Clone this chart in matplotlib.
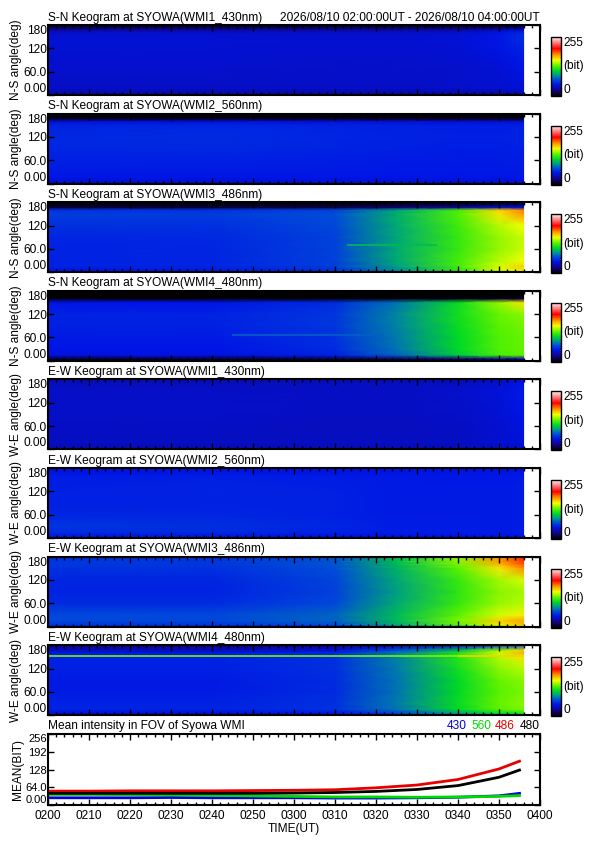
import matplotlib
matplotlib.use('Agg')
import matplotlib.pyplot as plt
import numpy as np
from matplotlib.colors import LinearSegmentedColormap, Normalize
from matplotlib.ticker import MultipleLocator

plt.rcParams['font.family'] = ['Liberation Sans', 'DejaVu Sans']
FS = 8.6

# time nodes (minutes after 02:00 UT) and angle nodes (deg) of the keogram grids
t_nodes = [0, 40, 70, 85, 100, 110, 116]
ang_nodes = [0, 5, 15, 30, 60, 90, 120, 150, 160, 167, 180]

# keogram intensities (bit), one row per angle node, one column per time node
sn_430 = [
    [18, 18, 18, 18, 18, 18, 18],
    [34, 34, 34, 34, 34, 34, 36],
    [41, 41, 41, 41, 42, 43, 45],
    [42, 42, 42, 42, 43, 45, 47],
    [43, 43, 42, 42, 43, 45, 49],
    [44, 44, 43, 43, 44, 47, 51],
    [45, 45, 44, 44, 45, 49, 55],
    [45, 45, 44, 44, 46, 51, 59],
    [43, 43, 42, 42, 44, 49, 57],
    [32, 32, 32, 32, 34, 38, 44],
    [4, 4, 4, 4, 4, 4, 4],
]
sn_560 = [
    [35, 35, 35, 35, 35, 35, 35],
    [45, 45, 45, 45, 45, 45, 45],
    [50, 50, 50, 50, 50, 50, 50],
    [52, 52, 52, 51, 51, 51, 52],
    [54, 54, 53, 52, 52, 52, 53],
    [56, 57, 55, 54, 53, 53, 54],
    [57, 58, 56, 55, 54, 54, 55],
    [55, 56, 55, 54, 53, 53, 54],
    [45, 45, 45, 44, 44, 44, 44],
    [6, 6, 6, 6, 6, 6, 6],
    [0, 0, 0, 0, 0, 0, 0],
]
sn_486 = [
    [30, 30, 35, 60, 90, 110, 120],
    [50, 52, 60, 85, 120, 150, 160],
    [55, 56, 65, 92, 125, 150, 165],
    [55, 56, 66, 95, 125, 145, 155],
    [55, 56, 66, 95, 122, 140, 148],
    [56, 57, 66, 94, 122, 140, 148],
    [60, 60, 68, 95, 124, 145, 155],
    [65, 64, 70, 97, 128, 160, 178],
    [60, 60, 66, 92, 125, 165, 182],
    [10, 10, 12, 20, 30, 40, 45],
    [0, 0, 0, 0, 0, 0, 0],
]
sn_480 = [
    [0, 0, 0, 0, 0, 0, 0],
    [10, 10, 12, 15, 20, 25, 28],
    [48, 48, 55, 75, 105, 125, 130],
    [50, 50, 58, 80, 110, 128, 132],
    [52, 52, 60, 82, 110, 128, 132],
    [54, 54, 62, 84, 112, 130, 134],
    [55, 55, 62, 85, 114, 132, 138],
    [50, 50, 58, 80, 112, 140, 160],
    [3, 3, 3, 3, 5, 8, 10],
    [0, 0, 0, 0, 0, 0, 0],
    [0, 0, 0, 0, 0, 0, 0],
]
ew_430 = [
    [34, 34, 34, 34, 35, 37, 39],
    [38, 38, 38, 38, 39, 41, 44],
    [40, 40, 40, 40, 41, 43, 47],
    [41, 41, 40, 40, 41, 44, 48],
    [41, 41, 40, 40, 41, 44, 49],
    [42, 42, 41, 41, 42, 45, 50],
    [42, 42, 41, 41, 42, 46, 51],
    [42, 42, 41, 41, 43, 47, 52],
    [41, 41, 41, 41, 42, 46, 51],
    [40, 40, 40, 40, 41, 45, 50],
    [37, 37, 37, 37, 38, 42, 46],
]
ew_560 = [
    [40, 40, 40, 40, 40, 40, 40],
    [52, 52, 50, 50, 50, 50, 50],
    [58, 57, 54, 52, 52, 52, 52],
    [62, 60, 56, 53, 53, 52, 53],
    [56, 56, 54, 52, 52, 52, 53],
    [54, 55, 54, 52, 52, 52, 53],
    [54, 55, 54, 52, 52, 52, 53],
    [53, 54, 53, 52, 51, 51, 52],
    [52, 53, 52, 51, 51, 51, 51],
    [50, 51, 50, 50, 50, 50, 50],
    [46, 46, 46, 46, 46, 46, 46],
]
ew_486 = [
    [45, 45, 50, 70, 100, 130, 145],
    [62, 62, 70, 95, 130, 160, 170],
    [68, 68, 76, 100, 135, 165, 175],
    [68, 68, 76, 100, 130, 150, 158],
    [58, 58, 68, 95, 122, 140, 145],
    [55, 55, 66, 92, 120, 138, 142],
    [56, 56, 67, 94, 122, 142, 150],
    [60, 60, 70, 98, 130, 160, 180],
    [62, 62, 72, 100, 135, 170, 190],
    [62, 62, 72, 102, 138, 175, 195],
    [60, 60, 70, 100, 138, 178, 198],
]
ew_480 = [
    [20, 20, 22, 25, 30, 35, 38],
    [45, 45, 50, 65, 90, 110, 115],
    [55, 55, 60, 80, 110, 130, 135],
    [55, 55, 60, 82, 112, 132, 138],
    [52, 52, 58, 80, 110, 130, 135],
    [52, 52, 58, 80, 110, 132, 138],
    [54, 54, 60, 82, 114, 138, 145],
    [54, 54, 60, 84, 118, 145, 160],
    [52, 52, 58, 82, 118, 150, 172],
    [40, 40, 45, 70, 100, 140, 165],
    [25, 25, 28, 32, 45, 60, 70],
]

# thin bright streaks: (angle, t start, t end, bit)
streaks_sn_486 = [(69, 73, 95, 100)]
streaks_sn_480 = [(67, 45, 82, 75)]
streaks_ew_480 = [(151, 0, 100, 135), (151, 100, 116, 165)]

panels = [
    ('S-N Keogram at SYOWA(WMI1_430nm)', 'N-S angle(deg)', sn_430, []),
    ('S-N Keogram at SYOWA(WMI2_560nm)', 'N-S angle(deg)', sn_560, []),
    ('S-N Keogram at SYOWA(WMI3_486nm)', 'N-S angle(deg)', sn_486, streaks_sn_486),
    ('S-N Keogram at SYOWA(WMI4_480nm)', 'N-S angle(deg)', sn_480, streaks_sn_480),
    ('E-W Keogram at SYOWA(WMI1_430nm)', 'W-E angle(deg)', ew_430, []),
    ('E-W Keogram at SYOWA(WMI2_560nm)', 'W-E angle(deg)', ew_560, []),
    ('E-W Keogram at SYOWA(WMI3_486nm)', 'W-E angle(deg)', ew_486, []),
    ('E-W Keogram at SYOWA(WMI4_480nm)', 'W-E angle(deg)', ew_480, streaks_ew_480),
]

# mean intensity in FOV
mean_t = [0, 10, 20, 30, 40, 50, 60, 70, 80, 90, 100, 110, 115]
mean_430 = [26, 26, 26, 27, 26, 26, 26, 25, 25, 26, 28, 33, 42]
mean_560 = [38, 38, 37, 36, 35, 33, 31, 29, 29, 28, 29, 31, 34]
mean_486 = [50, 50, 51, 51, 51, 52, 53, 55, 62, 72, 92, 130, 158]
mean_480 = [42, 42, 42, 42, 42, 42, 43, 45, 49, 56, 70, 100, 126]
time_ticks = [0, 10, 20, 30, 40, 50, 60, 70, 80, 90, 100, 110, 120]
time_labels = ['0200', '0210', '0220', '0230', '0240', '0250', '0300',
               '0310', '0320', '0330', '0340', '0350', '0400']

cmap = LinearSegmentedColormap.from_list('idl', [
    (0.00, (0, 0, 0)),
    (20 / 255, (0.08, 0.0, 0.45)),
    (50 / 255, (0.0, 0.08, 0.9)),
    (70 / 255, (0.0, 0.3, 0.85)),
    (90 / 255, (0.0, 0.6, 0.55)),
    (110 / 255, (0.0, 0.85, 0.15)),
    (130 / 255, (0.35, 0.95, 0.0)),
    (155 / 255, (0.95, 1.0, 0.0)),
    (180 / 255, (1.0, 0.55, 0.0)),
    (205 / 255, (1.0, 0.0, 0.0)),
    (1.00, (1.0, 0.95, 0.95)),
])
norm = Normalize(0, 255)

W, H = 595, 842


def rect(left, top, w, h):
    return [left / W, 1 - (top + h) / H, w / W, h / H]


def style_time_axis(ax, labels):
    ax.set_xlim(0, 120)
    ax.set_xticks(time_ticks)
    ax.xaxis.set_minor_locator(MultipleLocator(2))
    ax.tick_params(which='both', direction='in', top=True, right=True, width=1)
    ax.tick_params(which='major', length=4)
    ax.tick_params(which='minor', length=2)
    if labels:
        ax.set_xticklabels(time_labels, fontsize=FS)
    else:
        ax.set_xticklabels([])
    for s in ax.spines.values():
        s.set_linewidth(1.5)


fig = plt.figure(figsize=(W / 100, H / 100), dpi=100)
T, A = np.meshgrid(t_nodes, ang_nodes)

for i, (title, ylab, grid, streaks) in enumerate(panels):
    top = 25 + 88.6 * i
    ax = fig.add_axes(rect(48, top, 492, 70))
    mesh = ax.pcolormesh(T, A, np.array(grid), cmap=cmap, norm=norm, shading='gouraud')
    for ang, t0, t1, v in streaks:
        ax.hlines(ang, t0, t1, colors=[cmap(norm(v))], lw=1.2)
    ax.set_ylim(0, 180)
    ax.set_yticks([0, 60, 120, 180])
    yl = ax.set_yticklabels(['0.00', '60.0', '120', '180'], fontsize=FS)
    yl[0].set_va('bottom')
    yl[-1].set_va('top')
    ax.tick_params(axis='y', pad=1)
    ax.set_ylabel(ylab, fontsize=FS, labelpad=1)
    style_time_axis(ax, False)
    ax.text(0, 1.02, title, transform=ax.transAxes, fontsize=FS, ha='left', va='bottom')
    if i == 0:
        ax.text(1, 1.02, '2026/08/10 02:00:00UT - 2026/08/10 04:00:00UT',
                transform=ax.transAxes, fontsize=FS, ha='right', va='bottom')

    cax = fig.add_axes(rect(551, top + 12, 10, 59))
    cb = fig.colorbar(mesh, cax=cax, ticks=[])
    cb.outline.set_linewidth(1)
    cax.text(1.2, 1.0, '255', transform=cax.transAxes, fontsize=FS, va='top', ha='left')
    cax.text(1.2, 0.5, '(bit)', transform=cax.transAxes, fontsize=FS, va='center', ha='left')
    cax.text(1.2, 0.0, '0', transform=cax.transAxes, fontsize=FS, va='bottom', ha='left')

# mean intensity panel
ax = fig.add_axes(rect(48, 734, 492, 71))
ax.plot(mean_t, mean_430, color=(0.0, 0.0, 0.85), lw=2)
ax.plot(mean_t, mean_560, color=(0.0, 0.85, 0.0), lw=2)
ax.plot(mean_t, mean_486, color=(0.9, 0.0, 0.0), lw=2)
ax.plot(mean_t, mean_480, color='black', lw=2)
ax.set_ylim(0, 256)
ax.set_yticks([0, 64, 128, 192, 256])
yl = ax.set_yticklabels(['0.00', '64.0', '128', '192', '256'], fontsize=8)
yl[0].set_va('bottom')
yl[-1].set_va('top')
ax.tick_params(axis='y', pad=1)
ax.set_ylabel('MEAN(BIT)', fontsize=FS, labelpad=1)
style_time_axis(ax, True)
ax.set_xlabel('TIME(UT)', fontsize=FS, labelpad=1)
ax.text(0, 1.03, 'Mean intensity in FOV of Syowa WMI', transform=ax.transAxes,
        fontsize=FS, ha='left', va='bottom')
for x, lab, col in [(447, '430', (0.0, 0.0, 0.85)), (471, '560', (0.0, 0.85, 0.0)),
                    (495, '486', (0.9, 0.0, 0.0)), (520, '480', 'black')]:
    fig.text(x / W, 1 - 732 / H, lab, color=col, fontsize=FS, ha='left', va='bottom')

fig.savefig('out.png', dpi=100)
